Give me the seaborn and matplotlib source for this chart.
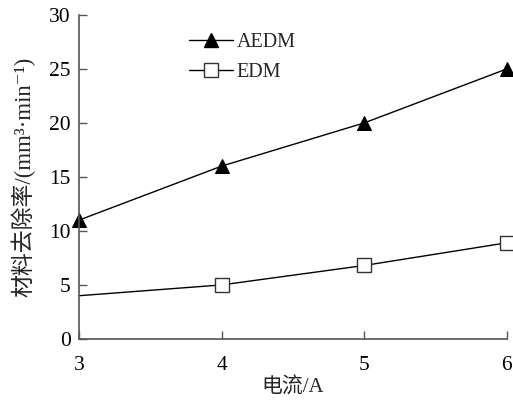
import matplotlib
matplotlib.use("Agg")
import matplotlib.pyplot as plt
import pandas as pd
import seaborn as sns

current = [3, 4, 5, 6]
aedm_rate = [11.0, 16.0, 20.0, 25.0]
edm_rate = [4.0, 5.0, 6.8, 8.9]
series_names = ["AEDM", "EDM"]

df = pd.DataFrame({
    "current": current * 2,
    "rate": aedm_rate + edm_rate,
    "method": [series_names[0]] * 4 + [series_names[1]] * 4,
})

sns.set_style("ticks")
plt.rcParams["font.family"] = ["Liberation Serif", "Noto Sans CJK SC", "DejaVu Serif"]
plt.rcParams["axes.unicode_minus"] = False

fig, ax = plt.subplots(figsize=(5.13, 4.03), dpi=100)
fig.subplots_adjust(left=0.154, right=0.988, top=0.963, bottom=0.159)

sns.lineplot(data=df, x="current", y="rate", hue="method", style="method",
             palette=["black", "black"], markers=["^", "s"], dashes=False,
             linewidth=1.0, markersize=10, ax=ax, legend=False)

lines = ax.get_lines()
lines[0].set_markerfacecolor("black")
lines[0].set_markeredgecolor("black")
lines[1].set_markerfacecolor("white")
lines[1].set_markeredgecolor("#333333")
lines[1].set_markeredgewidth(1.0)
lines[1].set_markevery([1, 2, 3])
for ln in lines:
    ln.set_clip_on(False)

ax.set_xlim(3, 6)
ax.set_ylim(0, 30)
ax.set_xticks([3, 4, 5, 6])
ax.set_yticks([0, 5, 10, 15, 20, 25, 30])
ax.tick_params(axis="both", direction="in", length=6, width=1.0, colors="#555555",
               labelsize=15.5, labelcolor="black")
ax.tick_params(axis="x", pad=12)
ax.tick_params(axis="y", pad=6)
for s in ["top", "right"]:
    ax.spines[s].set_visible(False)
for s in ["left", "bottom"]:
    ax.spines[s].set_color("#555555")
    ax.spines[s].set_linewidth(1.2)

ax.set_xlabel("电流/A", fontsize=15, labelpad=2)
ax.set_ylabel("材料去除率/(mm³·min⁻¹)", fontsize=16.5, labelpad=10)

handles = [
    plt.Line2D([], [], color="black", lw=1.0, marker="^", markersize=10,
               markerfacecolor="black"),
    plt.Line2D([], [], color="black", lw=1.0, marker="s", markersize=10,
               markerfacecolor="white", markeredgecolor="#333333"),
]
ax.legend(handles, series_names, loc="upper left", bbox_to_anchor=(0.215, 1.0),
          frameon=False, fontsize=14.5, handlelength=2.2, handletextpad=0.15,
          labelspacing=0.55)

fig.savefig("out.png", dpi=100)
